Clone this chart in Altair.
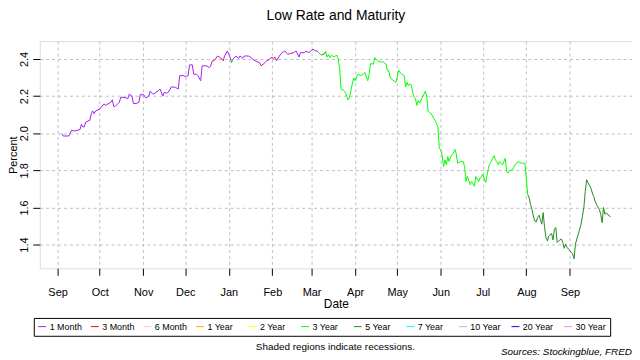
import altair as alt
import pandas as pd

# ---- data ----
dates = [
    "2018-09-04", "2018-09-05", "2018-09-09", "2018-09-11", "2018-09-13", "2018-09-17", "2018-09-18",
    "2018-09-19", "2018-09-20", "2018-09-21", "2018-09-24", "2018-09-25", "2018-09-26", "2018-09-27",
    "2018-09-28", "2018-10-01", "2018-10-02", "2018-10-04", "2018-10-05", "2018-10-07", "2018-10-09",
    "2018-10-10", "2018-10-11", "2018-10-12", "2018-10-15", "2018-10-16", "2018-10-17", "2018-10-20",
    "2018-10-21", "2018-10-22", "2018-10-24", "2018-10-25", "2018-10-27", "2018-10-29", "2018-10-30",
    "2018-10-31", "2018-11-01", "2018-11-03", "2018-11-05", "2018-11-06", "2018-11-08", "2018-11-10",
    "2018-11-12", "2018-11-13", "2018-11-15", "2018-11-16", "2018-11-18", "2018-11-20", "2018-11-21",
    "2018-11-24", "2018-11-26", "2018-11-27", "2018-11-30", "2018-12-01", "2018-12-03", "2018-12-04",
    "2018-12-06", "2018-12-07", "2018-12-09", "2018-12-10", "2018-12-12", "2018-12-13", "2018-12-16",
    "2018-12-18", "2018-12-19", "2018-12-20", "2018-12-22", "2018-12-24", "2018-12-26", "2018-12-28",
    "2018-12-29", "2018-12-31", "2019-01-02", "2019-01-03", "2019-01-04", "2019-01-06", "2019-01-08",
    "2019-01-09", "2019-01-11", "2019-01-12", "2019-01-15", "2019-01-17", "2019-01-19", "2019-01-23",
    "2019-01-24", "2019-01-26", "2019-01-28", "2019-01-30", "2019-01-31", "2019-02-02", "2019-02-03",
    "2019-02-04", "2019-02-06", "2019-02-08", "2019-02-10", "2019-02-12", "2019-02-14", "2019-02-16",
    "2019-02-18", "2019-02-20", "2019-02-21", "2019-02-24", "2019-02-25", "2019-02-27", "2019-03-01",
    "2019-03-02", "2019-03-04", "2019-03-05", "2019-03-06", "2019-03-08", "2019-03-10", "2019-03-11",
    "2019-03-12", "2019-03-13", "2019-03-14", "2019-03-15", "2019-03-17", "2019-03-18", "2019-03-19",
    "2019-03-20", "2019-03-21", "2019-03-22", "2019-03-24", "2019-03-25", "2019-03-26", "2019-03-27",
    "2019-03-28", "2019-03-29", "2019-03-30", "2019-03-31", "2019-04-01", "2019-04-03", "2019-04-05",
    "2019-04-07", "2019-04-08", "2019-04-10", "2019-04-11", "2019-04-12", "2019-04-14", "2019-04-15",
    "2019-04-17", "2019-04-19", "2019-04-21", "2019-04-23", "2019-04-24", "2019-04-25", "2019-04-26",
    "2019-04-28", "2019-04-30", "2019-05-01", "2019-05-02", "2019-05-03", "2019-05-04", "2019-05-06",
    "2019-05-07", "2019-05-08", "2019-05-09", "2019-05-10", "2019-05-11", "2019-05-12", "2019-05-13",
    "2019-05-14", "2019-05-15", "2019-05-16", "2019-05-17", "2019-05-19", "2019-05-21", "2019-05-22",
    "2019-05-23", "2019-05-24", "2019-05-26", "2019-05-27", "2019-05-28", "2019-05-29", "2019-05-30",
    "2019-05-31", "2019-06-01", "2019-06-02", "2019-06-03", "2019-06-04", "2019-06-05", "2019-06-06",
    "2019-06-07", "2019-06-08", "2019-06-10", "2019-06-11", "2019-06-12", "2019-06-13", "2019-06-15",
    "2019-06-17", "2019-06-18", "2019-06-19", "2019-06-20", "2019-06-22", "2019-06-23", "2019-06-24",
    "2019-06-25", "2019-06-26", "2019-06-28", "2019-06-29", "2019-06-30", "2019-07-01", "2019-07-02",
    "2019-07-03", "2019-07-05", "2019-07-06", "2019-07-07", "2019-07-08", "2019-07-09", "2019-07-10",
    "2019-07-11", "2019-07-12", "2019-07-13", "2019-07-15", "2019-07-16", "2019-07-17", "2019-07-18",
    "2019-07-19", "2019-07-20", "2019-07-22", "2019-07-24", "2019-07-26", "2019-07-29", "2019-07-31",
    "2019-08-01", "2019-08-02", "2019-08-03", "2019-08-04", "2019-08-05", "2019-08-06", "2019-08-07",
    "2019-08-08", "2019-08-09", "2019-08-10", "2019-08-11", "2019-08-12", "2019-08-13", "2019-08-14",
    "2019-08-15", "2019-08-16", "2019-08-17", "2019-08-19", "2019-08-20", "2019-08-21", "2019-08-22",
    "2019-08-23", "2019-08-24", "2019-08-26", "2019-08-27", "2019-08-28", "2019-08-29", "2019-08-30",
    "2019-08-31", "2019-09-02", "2019-09-03", "2019-09-04", "2019-09-05", "2019-09-06", "2019-09-07",
    "2019-09-09", "2019-09-10", "2019-09-11", "2019-09-12", "2019-09-13", "2019-09-14", "2019-09-16",
    "2019-09-17", "2019-09-18", "2019-09-19", "2019-09-20", "2019-09-22", "2019-09-23", "2019-09-24",
    "2019-09-25", "2019-09-26", "2019-09-27", "2019-09-29", "2019-09-30",
]
values = [
    1.998, 1.985, 1.985, 2.016, 2.012, 2.020, 2.048,
    2.034, 2.034, 2.060, 2.070, 2.105, 2.120, 2.105,
    2.120, 2.130, 2.140, 2.158, 2.150, 2.158, 2.167,
    2.180, 2.144, 2.144, 2.167, 2.194, 2.194, 2.190,
    2.185, 2.210, 2.200, 2.160, 2.160, 2.167, 2.210,
    2.206, 2.210, 2.190, 2.200, 2.226, 2.210, 2.220,
    2.230, 2.238, 2.200, 2.220, 2.215, 2.233, 2.250,
    2.247, 2.238, 2.310, 2.310, 2.304, 2.310, 2.368,
    2.368, 2.318, 2.318, 2.310, 2.283, 2.363, 2.363,
    2.354, 2.360, 2.386, 2.395, 2.416, 2.407, 2.390,
    2.416, 2.443, 2.407, 2.380, 2.398, 2.416, 2.404,
    2.416, 2.404, 2.416, 2.416, 2.407, 2.393, 2.380,
    2.363, 2.375, 2.390, 2.398, 2.407, 2.404, 2.410,
    2.390, 2.416, 2.434, 2.443, 2.425, 2.430, 2.434,
    2.443, 2.410, 2.434, 2.434, 2.443, 2.434, 2.446,
    2.452, 2.443, 2.443, 2.434, 2.421, 2.428, 2.440,
    2.410, 2.425, 2.407, 2.420, 2.410, 2.416, 2.420,
    2.398, 2.345, 2.238, 2.230, 2.220, 2.200, 2.180,
    2.194, 2.230, 2.265, 2.297, 2.283, 2.318, 2.310,
    2.320, 2.327, 2.283, 2.318, 2.375, 2.372, 2.407,
    2.390, 2.384, 2.384, 2.372, 2.336, 2.336, 2.297,
    2.286, 2.274, 2.300, 2.340, 2.327, 2.320, 2.310,
    2.250, 2.274, 2.256, 2.265, 2.260, 2.220, 2.194,
    2.185, 2.150, 2.176, 2.162, 2.194, 2.226, 2.200,
    2.120, 2.114, 2.096, 2.078, 2.070, 2.052, 2.034,
    1.918, 1.910, 1.883, 1.820, 1.856, 1.830, 1.874,
    1.847, 1.874, 1.892, 1.913, 1.892, 1.838, 1.847,
    1.847, 1.820, 1.740, 1.767, 1.723, 1.740, 1.728,
    1.714, 1.767, 1.740, 1.758, 1.767, 1.780, 1.753,
    1.735, 1.812, 1.838, 1.847, 1.865, 1.879, 1.856,
    1.847, 1.830, 1.847, 1.830, 1.847, 1.865, 1.794,
    1.785, 1.799, 1.803, 1.830, 1.847, 1.838, 1.838,
    1.753, 1.670, 1.652, 1.616, 1.590, 1.554, 1.527,
    1.522, 1.545, 1.558, 1.536, 1.510, 1.572, 1.492,
    1.438, 1.420, 1.447, 1.460, 1.425, 1.483, 1.492,
    1.412, 1.420, 1.430, 1.412, 1.380, 1.403, 1.385,
    1.376, 1.358, 1.350, 1.323, 1.403, 1.430, 1.456,
    1.510, 1.554, 1.600, 1.687, 1.749, 1.732, 1.705,
    1.678, 1.660, 1.634, 1.616, 1.590, 1.563, 1.518,
    1.600, 1.563, 1.572, 1.554, 1.550,
]

# which maturity had the lowest rate, from each start date on
mat_start = ["2018-09-04", "2018-12-20", "2018-12-22", "2018-12-26", "2018-12-28", "2019-01-03",
             "2019-01-04", "2019-01-24", "2019-01-26", "2019-01-31", "2019-02-03", "2019-02-14",
             "2019-02-16", "2019-03-06", "2019-03-08", "2019-03-11", "2019-08-02"]
mat_name = ["1 Month", "3 Month", "1 Month", "3 Month", "1 Month", "3 Year",
            "1 Month", "3 Month", "1 Month", "3 Month", "1 Month", "3 Month",
            "1 Month", "3 Year", "5 Year", "3 Year", "5 Year"]

maturities = ["1 Month", "3 Month", "6 Month", "1 Year", "2 Year", "3 Year",
              "5 Year", "7 Year", "10 Year", "20 Year", "30 Year"]
mat_colors = ["#A020F0", "#FF0000", "#FFC0CB", "#FFA500", "#FFFF00", "#00FF00",
              "#228B22", "#00FFFF", "#87CEEB", "#0000FF", "#EE82EE"]

month_ticks = ["2018-09-01", "2018-10-01", "2018-11-01", "2018-12-01", "2019-01-01",
               "2019-02-01", "2019-03-01", "2019-04-01", "2019-05-01", "2019-06-01",
               "2019-07-01", "2019-08-01", "2019-09-01"]
y_ticks = [1.4, 1.6, 1.8, 2.0, 2.2, 2.4]

title_text = "Low Rate and Maturity"
note_text = "Shaded regions indicate recessions."
source_text = "Sources: Stockingblue, FRED"

# ---- build segment table ----
df = pd.DataFrame({"d": pd.to_datetime(dates), "date": dates, "value": values})
reg = pd.DataFrame({"d": pd.to_datetime(mat_start), "maturity": mat_name})
df = pd.merge_asof(df.sort_values("d"), reg, on="d")
df["date2"] = df["date"].shift(-1)
df["value2"] = df["value"].shift(-1)
seg = df.dropna()[["date", "value", "date2", "value2", "maturity"]]


def dt(s, hours=0):
    y, m, d = (int(p) for p in s.split("-"))
    return alt.DateTime(year=y, month=m, date=d, hours=hours, utc=True)


FONT = "Liberation Sans"

x_scale = alt.Scale(type="utc", domain=[dt("2018-08-19", 7), dt("2019-10-15", 7)], nice=False)
y_scale = alt.Scale(domain=[1.272, 2.496], nice=False, zero=False)

x_axis = alt.Axis(
    values=[dt(s) for s in month_ticks], labelExpr="utcFormat(datum.value, '%b')",
    labelFontSize=11, labelFont=FONT, labelColor="black", labelPadding=11,
    labelOverlap=False, labelFlush=False,
    tickSize=7, tickColor="black", domain=False,
    grid=True, gridDash=[3, 3], gridColor="#BEBEBE", gridWidth=1,
    titleFontSize=12, titleFont=FONT, titleFontWeight="normal", titleColor="black",
    titlePadding=1,
)
y_axis = alt.Axis(
    values=y_ticks, format=".1f",
    labelAngle=270, labelAlign="center", labelBaseline="bottom",
    labelFontSize=11, labelFont=FONT, labelColor="black", labelPadding=3,
    tickSize=7, tickColor="black", domain=False,
    grid=True, gridDash=[3, 3], gridColor="#BEBEBE", gridWidth=1,
    titleFontSize=11, titleFont=FONT, titleFontWeight="normal", titleColor="black",
    titleAngle=270, titleBaseline="alphabetic", titleAlign="center",
    titleX=-23, titleY=114.5,
)

legend = alt.Legend(
    orient="none", legendX=-6, legendY=279, direction="horizontal", columns=11,
    title=None, symbolType="stroke", symbolSize=64, symbolStrokeWidth=1,
    labelFontSize=9, labelFont=FONT, labelColor="black", labelOffset=3,
    strokeColor="black", padding=4, columnPadding=6, gridAlign="all",
)

lines = alt.Chart(seg).mark_rule(strokeWidth=1).encode(
    x=alt.X("date:T", scale=x_scale, axis=x_axis, title="Date"),
    x2="date2:T",
    y=alt.Y("value:Q", scale=y_scale, axis=y_axis, title="Percent"),
    y2="value2:Q",
    color=alt.Color("maturity:N", scale=alt.Scale(domain=maturities, range=mat_colors), legend=legend),
)

note = alt.Chart(pd.DataFrame({"t": [note_text]})).mark_text(
    font=FONT, fontSize=10, color="black", align="center", baseline="middle"
).encode(text="t:N", x=alt.value(298), y=alt.value(308))

source = alt.Chart(pd.DataFrame({"t": [source_text]})).mark_text(
    font=FONT, fontSize=10, fontStyle="italic", color="black", align="right", baseline="middle"
).encode(text="t:N", x=alt.value(597), y=alt.value(313))

chart = alt.layer(lines, note, source).properties(
    width=597, height=229,
    title=alt.TitleParams(title_text, fontSize=14, font=FONT, fontWeight="normal",
                          color="black", anchor="middle", offset=18),
    padding={"left": 32, "top": 32, "right": 0, "bottom": 94},
    autosize=alt.AutoSizeParams(type="none"),
).configure_view(stroke="black", strokeWidth=1).configure(background="white")

chart.save("out.html", embed_options={"renderer": "svg", "actions": False})
